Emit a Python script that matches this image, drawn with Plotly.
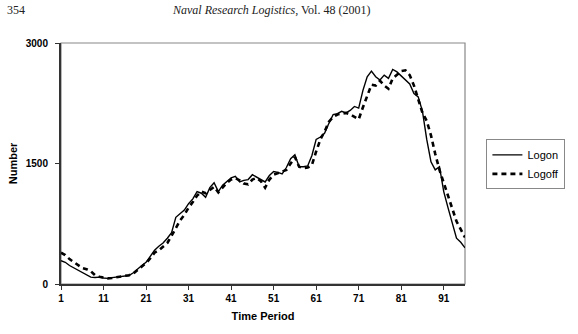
import plotly.graph_objects as go

periods = list(range(1, 97))

logon = [290, 270, 230, 200, 170, 140, 110, 85, 80, 85,
         75, 70, 80, 85, 95, 100, 105, 140, 190, 230,
         270, 340, 420, 470, 510, 570, 640, 830, 870, 920,
         1000, 1060, 1150, 1130, 1080, 1200, 1260, 1150, 1230, 1280,
         1320, 1340, 1270, 1290, 1300, 1360, 1330, 1300, 1270, 1350,
         1400, 1390, 1370, 1450, 1560, 1610, 1460, 1460, 1470, 1600,
         1800, 1830, 1880, 2000, 2110, 2120, 2150, 2130, 2160, 2210,
         2190, 2410, 2580, 2650, 2580, 2540, 2600, 2560, 2670, 2640,
         2590, 2540, 2490, 2370, 2330, 2150, 1800, 1520, 1420, 1460,
         1150, 950, 760, 570, 520, 450]

logoff = [390, 360, 310, 270, 230, 200, 185, 160, 110, 90,
          80, 70, 75, 85, 90, 100, 110, 130, 170, 220,
          260, 320, 390, 420, 470, 510, 600, 700, 790, 860,
          950, 1020, 1100, 1150, 1130, 1170, 1210, 1140, 1200, 1260,
          1300, 1320, 1290, 1250, 1240, 1300, 1320, 1280, 1200, 1300,
          1360, 1380, 1400, 1420, 1500, 1580, 1460, 1440, 1450, 1480,
          1650, 1800, 1900, 2020, 2080, 2110, 2120, 2130, 2110, 2080,
          2050, 2200, 2350, 2480, 2470, 2530, 2470, 2430, 2560, 2600,
          2650, 2660, 2600, 2470, 2300, 2130, 2030, 1850, 1620, 1420,
          1260, 1100, 920, 780, 680, 580]

x_ticks = [1, 11, 21, 31, 41, 51, 61, 71, 81, 91]
y_ticks = [0, 1500, 3000]

fig = go.Figure()
fig.add_trace(go.Scatter(x=periods, y=logon, name="Logon", mode="lines",
                         line=dict(color="black", width=1.4)))
fig.add_trace(go.Scatter(x=periods, y=logoff, name="Logoff", mode="lines",
                         line=dict(color="black", width=2.6, dash="5px,4px")))

tick_font = dict(family="Liberation Sans, Arial", size=10, color="black", weight="bold")
title_font = dict(family="Liberation Sans, Arial", size=11, color="black")

fig.update_layout(
    width=578, height=334,
    margin=dict(l=58, r=113, t=43, b=50),
    paper_bgcolor="white", plot_bgcolor="white",
    showlegend=True,
    legend=dict(x=1.053, y=0.60, xanchor="left", yanchor="top",
                bordercolor="#888888", borderwidth=1,
                font=dict(family="Liberation Sans, Arial", size=11, color="black"),
                bgcolor="white", tracegroupgap=0, itemwidth=30),
    xaxis=dict(range=[1, 96], tickvals=x_ticks, ticktext=[str(v) for v in x_ticks],
               showgrid=False, zeroline=False, showline=True, linecolor="#333333",
               linewidth=1.5, mirror=False, ticks="outside", ticklen=4,
               tickcolor="#333333", tickfont=tick_font,
               title=dict(text="<b>Time Period</b>", font=title_font, standoff=10)),
    yaxis=dict(range=[0, 3000], tickvals=y_ticks, ticktext=[str(v) for v in y_ticks],
               showgrid=False, zeroline=False, showline=True, linecolor="#333333",
               linewidth=2, ticks="outside", ticklen=4, tickcolor="#333333",
               tickfont=tick_font, ticklabelstandoff=5,
               title=dict(text="<b>Number</b>", font=title_font, standoff=6)),
    shapes=[dict(type="rect", xref="paper", yref="paper", x0=0, x1=1, y0=0, y1=1,
                 line=dict(color="#888888", width=1.2), layer="below")],
    annotations=[
        dict(text="354", xref="paper", yref="paper", x=-0.138, y=1.135,
             xanchor="left", yanchor="middle", showarrow=False,
             font=dict(family="Liberation Serif, Times New Roman", size=12, color="#222222")),
        dict(text="<i>Naval Research Logistics</i>, Vol. 48 (2001)", xref="paper", yref="paper",
             x=(270 - 58) / 407, y=1.135, xanchor="center", yanchor="middle", showarrow=False,
             font=dict(family="Liberation Serif, Times New Roman", size=12, color="#222222")),
    ],
)

fig.write_html("out.html")
